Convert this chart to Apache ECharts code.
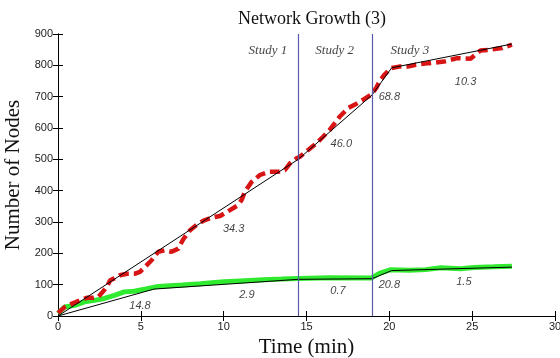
<!DOCTYPE html>
<html>
<head>
<meta charset="utf-8">
<script src="https://cdn.jsdelivr.net/npm/echarts@6/dist/echarts.min.js"></script>
<style>html,body{margin:0;padding:0;background:#fff}#c{width:560px;height:358px}</style>
</head>
<body>
<div id="c"></div>
<script>
// Red (dashed) network growth
const redTime  = [0,0.42,0.72,1.33,1.73,2.13,2.43,2.7,2.95,3.15,3.4,3.74,4.15,4.65,4.95,5.25,5.65,6.05,6.46,6.86,7.26,7.56,7.97,8.47,8.87,9.37,9.78,10.38,10.88,11.08,11.28,11.69,12.19,12.69,13.3,13.7,14.0,14.4,14.6,15.1,15.6,16.0,16.4,16.7,17.0,17.5,17.9,18.4,18.9,19.2,19.4,19.7,20.1,20.6,21.1,21.6,22.4,23.3,24.1,24.9,25.2,25.5,26.1,26.8,27.4];
const redNodes = [10,29,37,50,58,58,61,77,93,114,120,130,135,135,141,157,178,205,210,205,215,245,274,295,306,315,319,338,354,370,397,428,450,460,460,466,487,503,508,530,551,572,594,615,636,663,674,690,706,727,748,770,791,796,796,802,807,812,823,821,834,847,850,855,866];
// Green (solid) growth
const greenTime  = [0,0.4,1.0,1.6,2.2,2.8,3.4,4.0,4.6,5.3,5.9,6.5,7.5,8.6,10,11,12.4,13.5,14.5,16.4,18.9,19.4,20.1,21.2,22.2,23.1,24.3,25.1,26.3,27.4];
const greenNodes = [8,29,34,45,50,56,66,77,79,86,93,96,99,103,109,112,116,118,120,122,121,136,148,146,148,154,151,155,157,159];
// Piecewise linear fits
const redFitTime = [0,14.5,18.95,20.14,27.4];
const redFitNodes = [0,500,705,792,868];
const greenFitTime = [0,5.8,14.5,18.95,20.14,27.4];
const greenFitNodes = [0,86,117,119,145,156];
// Study boundaries
const studyBounds = [14.5, 18.95];
const studyNames = ['Study 1','Study 2','Study 3'];
const studyNameTime = [12.67, 16.7, 21.24];
const studyNameNodes = [846, 846, 846];
// Slope annotations
const slopeText = ['14.8','2.9','0.7','20.8','1.5','34.3','46.0','68.8','10.3'];
const slopeTime = [4.95,11.4,16.9,20.0,24.5,10.6,17.1,20.0,24.6];
const slopeNodes = [31,66,80,98,109,279,549,698,748];
// Axis ticks
const xTicks = [0,5,10,15,20,25,30];
const yTicks = [0,100,200,300,400,500,600,700,800,900];

const zip = (a,b) => a.map((v,i)=>[v,b[i]]);
const chart = echarts.init(document.getElementById('c'), null, {renderer:'canvas'});
const axisLine = {show:true, lineStyle:{color:'#000', width:1}};
const tickIn = {show:true, inside:true, length:5, lineStyle:{color:'#000'}};
const tickLbl = {fontFamily:'Liberation Sans', fontSize:11, color:'#222'};
chart.setOption({
  animation:false,
  backgroundColor:'#fff',
  title:{text:'Network Growth (3)', left:307, top:5, textAlign:'center',
    textStyle:{fontFamily:'Liberation Serif', fontSize:18, fontWeight:'normal', color:'#111'}},
  grid:{left:58, right:5, top:34, bottom:42, containLabel:false, outerBoundsMode:'none'},
  xAxis:[
    {type:'value', min:xTicks[0], max:xTicks[xTicks.length-1], interval:5, position:'bottom',
     axisLine, axisTick:tickIn, splitLine:{show:false},
     axisLabel:Object.assign({margin:5}, tickLbl),
     name:'Time (min)', nameLocation:'middle', nameGap:21,
     nameTextStyle:{fontFamily:'Liberation Serif', fontSize:21, color:'#111'}},
    {type:'value', min:0, max:30, interval:5, position:'top',
     axisLine, axisTick:tickIn, axisLabel:{show:false}, splitLine:{show:false}}
  ],
  yAxis:[
    {type:'value', min:yTicks[0], max:yTicks[yTicks.length-1], interval:100, position:'left',
     axisLine, axisTick:tickIn, splitLine:{show:false},
     axisLabel:Object.assign({margin:5}, tickLbl),
     name:'Number of Nodes', nameLocation:'middle', nameGap:29, nameRotate:90,
     nameTextStyle:{fontFamily:'Liberation Serif', fontSize:21, color:'#111'}},
    {type:'value', min:0, max:900, interval:100, position:'right',
     axisLine, axisTick:tickIn, axisLabel:{show:false}, splitLine:{show:false}}
  ],
  series:[
    {type:'line', data:zip(greenTime, greenNodes), symbol:'none', smooth:false,
     lineStyle:{color:'#30ea30', width:5}, z:2},
    {type:'line', data:zip(redTime, redNodes), symbol:'none',
     lineStyle:{color:'#d81414', width:4.5, type:[10,5]}, z:3},
    {type:'line', data:zip(redFitTime, redFitNodes), symbol:'none',
     lineStyle:{color:'#000', width:1}, z:4},
    {type:'line', data:zip(greenFitTime, greenFitNodes), symbol:'none',
     lineStyle:{color:'#000', width:1}, z:4,
     markLine:{silent:true, symbol:'none', label:{show:false},
       lineStyle:{color:'#5a5aaa', width:1.2, type:'solid'},
       data:studyBounds.map(v=>({xAxis:v}))}},
    {type:'scatter', data:studyNames.map((n,i)=>({value:[studyNameTime[i], studyNameNodes[i]], name:n})),
     symbolSize:0, z:5,
     label:{show:true, position:'inside', formatter:p=>p.name,
       fontFamily:'Liberation Serif', fontStyle:'italic', fontSize:13, color:'#111'}},
    {type:'scatter', data:slopeText.map((n,i)=>({value:[slopeTime[i], slopeNodes[i]], name:n})),
     symbolSize:0, z:5,
     label:{show:true, position:'inside', formatter:p=>p.name,
       fontFamily:'Liberation Sans', fontStyle:'italic', fontSize:11, color:'#111'}}
  ]
});
</script>
</body>
</html>
